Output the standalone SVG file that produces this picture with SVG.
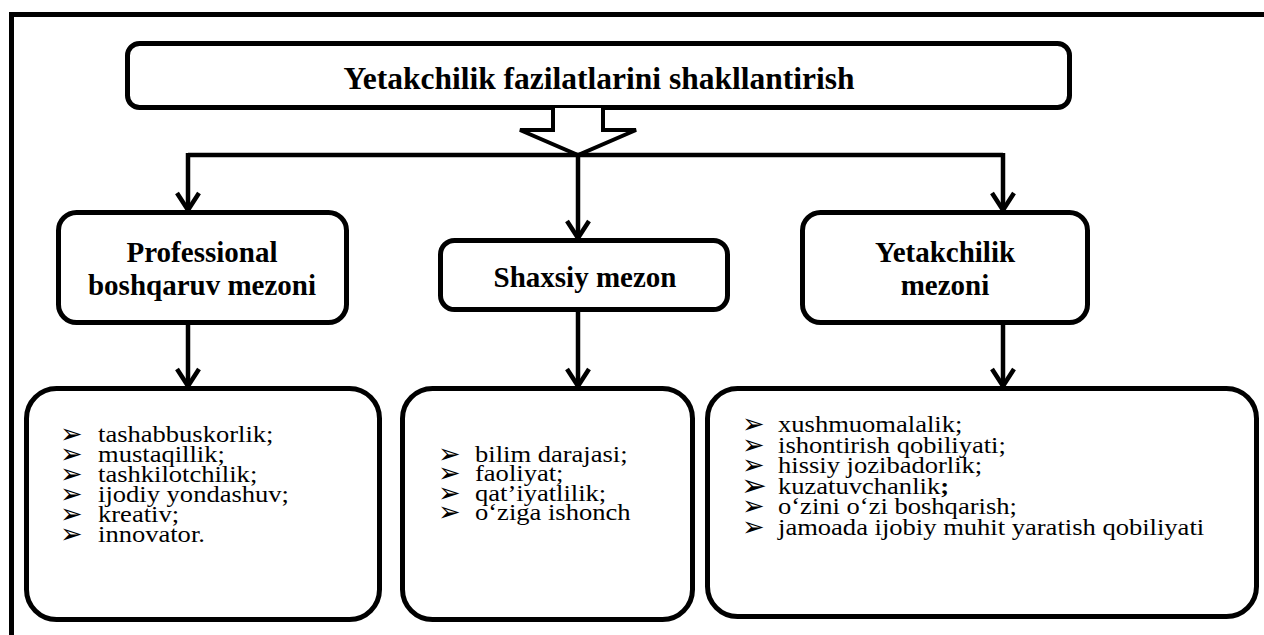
<svg xmlns="http://www.w3.org/2000/svg" width="1264" height="635" viewBox="0 0 1264 635">
  <style>
    .box { fill: #fff; stroke: #000; stroke-width: 5; }
    .conn { fill: none; stroke: #000; stroke-width: 4.5; }
    .head { fill: #fff; stroke: #000; stroke-width: 4; stroke-linejoin: miter; }
    .title { font-family: "Liberation Serif", "Times New Roman", serif; font-weight: bold; font-size: 31.5px; text-anchor: middle; fill: #000; }
    .label { font-family: "Liberation Serif", "Times New Roman", serif; font-weight: bold; font-size: 29px; text-anchor: middle; fill: #000; }
    .item { font-family: "Liberation Serif", "Times New Roman", serif; font-size: 23px; fill: #000; }
    .bullet { font-family: "DejaVu Sans", sans-serif; font-size: 27px; fill: #000; }
  </style>
  <defs>
    <marker id="chevron" markerUnits="userSpaceOnUse" markerWidth="30" markerHeight="30" viewBox="-22 -15 26 30" refX="0" refY="0" orient="auto" overflow="visible">
      <path d="M-17,-11 L0,0 L-17,11" fill="none" stroke="#000" stroke-width="4.5" stroke-linejoin="miter"/>
    </marker>
  </defs>

  <rect width="1264" height="635" fill="#fff"/>

  <!-- outer frame: top and left edges -->
  <path d="M11.5,635 L11.5,14.5 L1264,14.5" fill="none" stroke="#000" stroke-width="5"/>

  <g id="title">
    <rect class="box" x="127.5" y="43.5" width="942" height="64" rx="12"/>
    <text class="title" x="599" y="89">Yetakchilik fazilatlarini shakllantirish</text>
  </g>

  <g id="connectors">
    <!-- hollow block arrow under the title -->
    <path class="head" d="M553,108 L553,130 L520,130 L578,155 L636,130 L603,130 L603,108"/>
    <path class="conn" d="M188,155 L1003,155"/>
    <line class="conn" x1="188" y1="153" x2="188" y2="210" marker-end="url(#chevron)"/>
    <line class="conn" x1="1003" y1="153" x2="1003" y2="210" marker-end="url(#chevron)"/>
    <line class="conn" x1="578" y1="155" x2="578" y2="238" marker-end="url(#chevron)"/>
    <line class="conn" x1="188" y1="323" x2="188" y2="386" marker-end="url(#chevron)"/>
    <line class="conn" x1="578" y1="310" x2="578" y2="386" marker-end="url(#chevron)"/>
    <line class="conn" x1="1003" y1="323" x2="1003" y2="386" marker-end="url(#chevron)"/>
  </g>

  <g id="professional">
    <rect class="box" x="58.5" y="212.5" width="288" height="110" rx="18"/>
    <text class="label" x="202" y="262">Professional</text>
    <text class="label" x="202" y="295">boshqaruv mezoni</text>
  </g>

  <g id="shaxsiy">
    <rect class="box" x="440.5" y="240.5" width="287" height="69" rx="14"/>
    <text class="label" x="585" y="287">Shaxsiy mezon</text>
  </g>

  <g id="yetakchilik">
    <rect class="box" x="802.5" y="212.5" width="285" height="110" rx="18"/>
    <text class="label" x="945" y="262">Yetakchilik</text>
    <text class="label" x="945" y="295">mezoni</text>
  </g>

  <g id="professional-list">
    <rect class="box" x="26.5" y="388.5" width="353" height="231" rx="30"/>
    <g class="bullet">
      <text x="60" y="443">➢</text>
      <text x="60" y="463">➢</text>
      <text x="60" y="483">➢</text>
      <text x="60" y="503">➢</text>
      <text x="60" y="523">➢</text>
      <text x="60" y="543">➢</text>
    </g>
    <g transform="translate(98,0) scale(1.155,1)">
      <text class="item" x="0" y="442">tashabbuskorlik;</text>
      <text class="item" x="0" y="462">mustaqillik;</text>
      <text class="item" x="0" y="482">tashkilotchilik;</text>
      <text class="item" x="0" y="502">ijodiy yondashuv;</text>
      <text class="item" x="0" y="522">kreativ;</text>
      <text class="item" x="0" y="542">innovator.</text>
    </g>
  </g>

  <g id="shaxsiy-list">
    <rect class="box" x="402.5" y="388.5" width="290" height="231" rx="30"/>
    <g class="bullet">
      <text x="438" y="463">➢</text>
      <text x="438" y="482">➢</text>
      <text x="438" y="502">➢</text>
      <text x="438" y="521">➢</text>
    </g>
    <g transform="translate(475,0) scale(1.155,1)">
      <text class="item" x="0" y="462">bilim darajasi;</text>
      <text class="item" x="0" y="481">faoliyat;</text>
      <text class="item" x="0" y="501">qat’iyatlilik;</text>
      <text class="item" x="0" y="520">o‘ziga ishonch</text>
    </g>
  </g>

  <g id="yetakchilik-list">
    <rect class="box" x="707.5" y="388.5" width="549" height="228" rx="30"/>
    <g class="bullet">
      <text x="742" y="433">➢</text>
      <text x="742" y="454">➢</text>
      <text x="742" y="474">➢</text>
      <text x="741" y="496" font-size="31">➢</text>
      <text x="742" y="515">➢</text>
      <text x="742" y="536">➢</text>
    </g>
    <g transform="translate(778,0) scale(1.155,1)">
      <text class="item" x="0" y="432">xushmuomalalik;</text>
      <text class="item" x="0" y="453">ishontirish qobiliyati;</text>
      <text class="item" x="0" y="473">hissiy jozibadorlik;</text>
      <text class="item" x="0" y="494">kuzatuvchanlik<tspan font-weight="bold">;</tspan></text>
      <text class="item" x="0" y="514">o‘zini o‘zi boshqarish;</text>
      <text class="item" x="0" y="535">jamoada ijobiy muhit yaratish qobiliyati</text>
    </g>
  </g>
</svg>
